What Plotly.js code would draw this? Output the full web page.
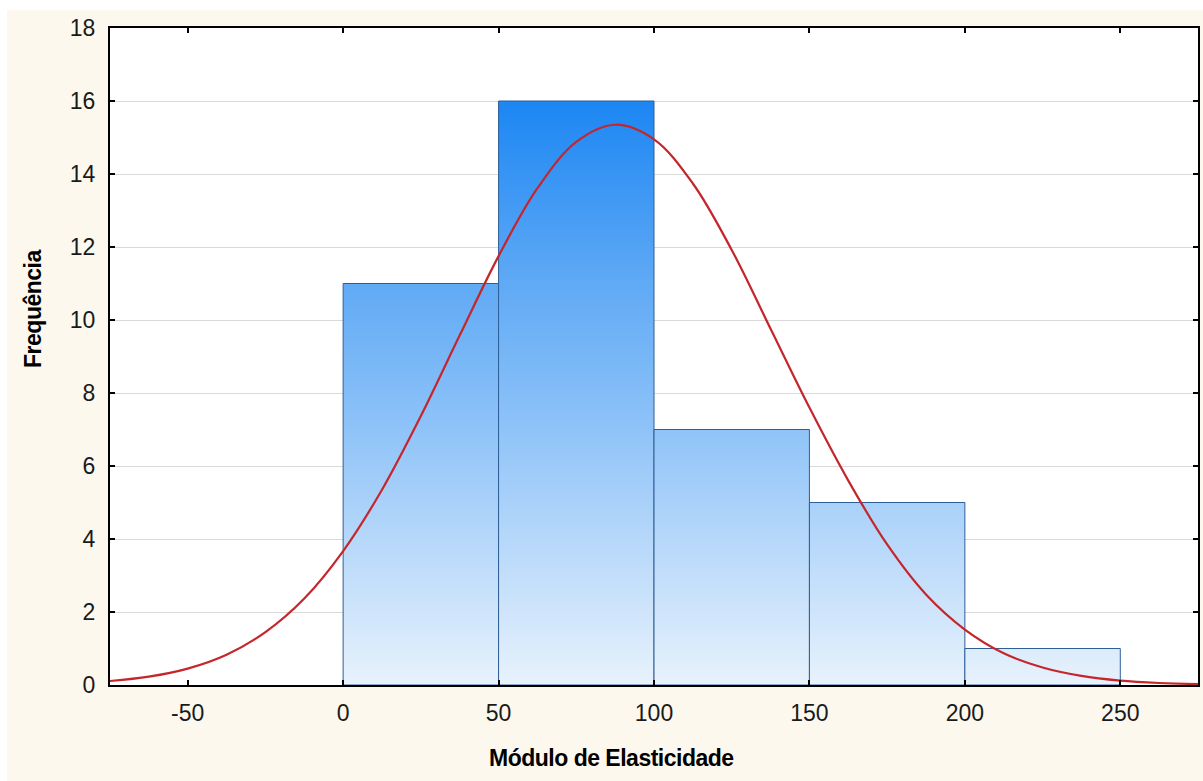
<!DOCTYPE html>
<html>
<head>
<meta charset="utf-8">
<script src="https://cdn.plot.ly/plotly-3.0.1.min.js"></script>
<style>html,body{margin:0;padding:0;background:#fff}#chart{width:1203px;height:781px}</style>
</head>
<body>
<div id="chart"></div>
<script>
// Histogram bins (Módulo de Elasticidade) and frequencies
const binStart = [0, 50, 100, 150, 200];
const binEnd   = [50, 100, 150, 200, 250];
const freq     = [11, 16, 7, 5, 1];

// Fitted normal curve
const curveX = [-75, -62.5, -50, -37.5, -25, -12.5, 0, 12.5, 25, 37.5, 50, 62.5, 75, 87.5, 100, 112.5, 125, 137.5, 150, 162.5, 175, 187.5, 200, 212.5, 225, 237.5, 250, 262.5, 275];
const curveY = [0.11, 0.23, 0.45, 0.83, 1.45, 2.37, 3.67, 5.35, 7.37, 9.58, 11.75, 13.61, 14.88, 15.35, 14.95, 13.74, 11.92, 9.76, 7.6, 5.6, 3.85, 2.48, 1.52, 0.87, 0.48, 0.25, 0.12, 0.055, 0.024];

// Axis ticks and titles
const xTicks = [-50, 0, 50, 100, 150, 200, 250];
const yTicks = [0, 2, 4, 6, 8, 10, 12, 14, 16, 18];
const xTitle = 'Módulo de Elasticidade';
const yTitle = 'Frequência';

const maxF = Math.max.apply(null, freq);
const traces = [];
for (let i = 0; i < freq.length; i++) {
  traces.push({
    type: 'scatter', mode: 'lines',
    x: [binStart[i], binStart[i], binEnd[i], binEnd[i], binStart[i]],
    y: [0, freq[i], freq[i], 0, 0],
    fill: 'toself',
    fillgradient: {
      type: 'vertical', start: 0, stop: maxF,
      colorscale: [[0, '#E8F2FC'], [0.45, '#8DC2F8'], [0.7, '#5DA8F5'], [1, '#1C86F3']]
    },
    line: {color: '#2E5E96', width: 1},
    hoverinfo: 'skip', showlegend: false
  });
}
traces.push({
  type: 'scatter', mode: 'lines', x: curveX, y: curveY,
  line: {color: '#C4262C', width: 2.2, shape: 'spline'},
  showlegend: false
});

const titleFont = {size: 23, family: 'Liberation Sans, Arial, sans-serif', weight: 'bold', color: '#000'};
const layout = {
  width: 1203, height: 781,
  margin: {l: 110, r: 5, t: 28, b: 96},
  paper_bgcolor: '#FCF8EE',
  plot_bgcolor: '#FFFFFF',
  font: {family: 'Liberation Sans, Arial, sans-serif', size: 23, color: '#1a1a1a'},
  showlegend: false,
  xaxis: {
    range: [-75, 275], tickvals: xTicks, ticktext: xTicks.map(String),
    showgrid: false, zeroline: false,
    showline: true, linecolor: '#000', linewidth: 2, mirror: 'ticks',
    ticks: 'inside', ticklen: 5, tickwidth: 2, tickcolor: '#000',
    tickfont: {size: 23}, ticklabelstandoff: 6
  },
  yaxis: {
    range: [0, 18], tickvals: yTicks, ticktext: yTicks.map(String),
    showgrid: true, gridcolor: '#D9D9D9', gridwidth: 1, zeroline: false,
    showline: true, linecolor: '#000', linewidth: 2, mirror: 'ticks',
    ticks: 'inside', ticklen: 5, tickwidth: 2, tickcolor: '#000',
    tickfont: {size: 23}, ticklabelstandoff: 8
  },
  annotations: [
    {text: '<span style="letter-spacing:-0.5px">' + xTitle + '</span>', xref: 'paper', yref: 'paper',
     x: 0.461, y: -0.111, xanchor: 'center', yanchor: 'middle', showarrow: false, font: titleFont},
    {text: '<span style="letter-spacing:-0.5px">' + yTitle + '</span>', xref: 'paper', yref: 'paper',
     x: -0.071, y: 0.572, xanchor: 'center', yanchor: 'middle', textangle: -90, showarrow: false, font: titleFont}
  ],
  shapes: [
    {type: 'rect', xref: 'paper', yref: 'paper', x0: -0.2, x1: 1.1, y0: 1 + 18/657, y1: 1.2, fillcolor: '#FFFFFF', line: {width: 0}, layer: 'below'},
    {type: 'rect', xref: 'paper', yref: 'paper', x0: -0.2, x1: -103/1088, y0: -0.3, y1: 1.2, fillcolor: '#FFFFFF', line: {width: 0}, layer: 'below'}
  ]
};

Plotly.newPlot('chart', traces, layout, {displayModeBar: false, staticPlot: true});
</script>
</body>
</html>
